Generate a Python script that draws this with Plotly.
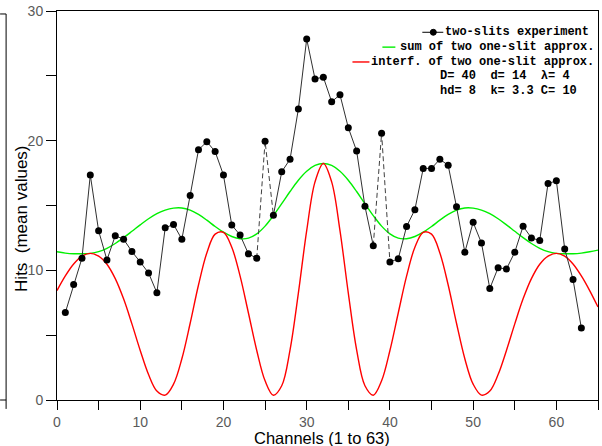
import plotly.graph_objects as go

# Measured two-slit counts per channel (mean values)
channels = list(range(1, 64))
hits = [6.74, 8.9, 10.94, 17.35, 13.05, 10.8, 12.67, 12.4, 11.45, 10.64,
        9.8, 8.27, 13.28, 13.54, 12.4, 15.78, 19.29, 19.92, 19.16, 17.35,
        13.49, 12.72, 11.27, 10.94, 19.95, 14.25, 17.6, 18.57, 22.44, 27.84,
        24.76, 24.9, 23.0, 23.54, 21.0, 19.2, 14.94, 11.9, 20.58, 10.64,
        10.89, 13.38, 14.68, 17.86, 17.86, 18.57, 18.1, 14.9, 11.4, 13.7,
        12.1, 8.6, 10.2, 10.1, 11.4, 13.4, 12.5, 12.3, 16.7, 16.9,
        11.65, 9.3, 5.55]
# channels shown joined by dashed segments
dashed_channels = [25, 39]

# Model curves sampled at every channel 0..65
curve_x = list(range(0, 66))
sum_one_slit = [11.43, 11.33, 11.28, 11.28, 11.31, 11.44, 11.70, 12.07, 12.52, 13.01,
                13.51, 13.98, 14.37, 14.65, 14.80, 14.81, 14.64, 14.31, 13.87, 13.38,
                12.94, 12.61, 12.44, 12.48, 12.81, 13.41, 14.22, 15.14, 16.08, 16.95,
                17.64, 18.09, 18.24, 18.09, 17.64, 16.95, 16.08, 15.14, 14.22, 13.41,
                12.81, 12.48, 12.44, 12.61, 12.94, 13.38, 13.87, 14.31, 14.64, 14.81,
                14.80, 14.65, 14.37, 13.98, 13.51, 13.01, 12.52, 12.07, 11.70, 11.44,
                11.31, 11.28, 11.28, 11.33, 11.43, 11.56]
interf_one_slit = [8.44, 9.57, 10.49, 11.10, 11.31, 11.10, 10.47, 9.36, 7.80, 5.87,
                   3.82, 1.96, 0.69, 0.38, 1.22, 3.18, 5.92, 8.87, 11.34, 12.79,
                   12.93, 11.78, 9.55, 6.71, 3.82, 1.48, 0.37, 1.10, 3.87, 8.24,
                   13.06, 16.82, 18.24, 16.82, 13.06, 8.24, 3.87, 1.10, 0.37, 1.48,
                   3.82, 6.71, 9.55, 11.78, 12.93, 12.79, 11.34, 8.87, 5.92, 3.18,
                   1.22, 0.38, 0.69, 1.96, 3.82, 5.87, 7.80, 9.36, 10.47, 11.10,
                   11.31, 11.10, 10.49, 9.57, 8.44, 7.17]

legend_lines = ["two-slits experiment",
                "sum of two one-slit approx.",
                "interf. of two one-slit approx."]
param_lines = ["D= 40  d= 14  \u03bb= 4",
               "hd= 8  k= 3.3 C= 10"]

x_range = [0, 65]
y_range = [0, 30]
x_ticks = list(range(0, 66, 5))
y_ticks = list(range(0, 31, 5))

W, H = 602, 446
ML, MR, MT, MB = 57, 3, 7, 46
PW, PH = W - ML - MR, H - MT - MB


def px(x):
    return (x - ML) / PW


def py(y):
    return (H - MB - y) / PH


fig = go.Figure()

fig.add_trace(go.Scatter(x=curve_x, y=sum_one_slit, mode="lines",
                         line=dict(color="#00f000", width=1.4, shape="spline"),
                         showlegend=False, hoverinfo="skip"))
fig.add_trace(go.Scatter(x=curve_x, y=interf_one_slit, mode="lines",
                         line=dict(color="#ff0000", width=1.4, shape="spline"),
                         showlegend=False, hoverinfo="skip"))

# solid polyline, broken around the dashed channels
solid_y = [None if c in dashed_channels else h for c, h in zip(channels, hits)]
fig.add_trace(go.Scatter(x=channels, y=solid_y, mode="lines",
                         line=dict(color="#303030", width=1),
                         connectgaps=False, showlegend=False))

dx, dy = [], []
for c in dashed_channels:
    i = channels.index(c)
    dx += [channels[i - 1], channels[i], channels[i + 1], None]
    dy += [hits[i - 1], hits[i], hits[i + 1], None]
fig.add_trace(go.Scatter(x=dx, y=dy, mode="lines",
                         line=dict(color="#404040", width=1, dash="5px,3px"),
                         showlegend=False))

fig.add_trace(go.Scatter(x=channels, y=hits, mode="markers",
                         marker=dict(color="black", size=7),
                         showlegend=False))

axis_font = dict(family="Liberation Sans, Arial", size=14, color="#5a5a5a")
fig.update_xaxes(range=x_range, tickmode="array", tickvals=x_ticks,
                 ticktext=[str(v) if v % 10 == 0 else "" for v in x_ticks],
                 ticks="outside", ticklen=9, tickcolor="black",
                 showline=True, linecolor="black", linewidth=1, mirror=True,
                 showgrid=False, zeroline=False, tickfont=axis_font,
                 ticklabeloverflow="allow")
fig.update_yaxes(range=y_range, tickmode="array", tickvals=y_ticks,
                 ticktext=[str(v) if v % 10 == 0 else "" for v in y_ticks],
                 ticks="outside", ticklen=10, tickcolor="black",
                 showline=True, linecolor="black", linewidth=1, mirror=True,
                 showgrid=False, zeroline=False, tickfont=axis_font,
                 ticklabeloverflow="allow")

mono = dict(family="Liberation Mono, DejaVu Sans Mono, monospace", size=12,
            color="black", weight="bold")
annotations = []
rights = [592, 597, 597]
ys = [28.5, 43.5, 58.5]
for txt, xr, yc in zip(legend_lines, rights, ys):
    annotations.append(dict(x=px(xr), y=py(yc), xref="paper", yref="paper",
                            text=txt, showarrow=False, xanchor="right",
                            yanchor="middle", font=mono))
for txt, yc in zip(param_lines, [73, 87.5]):
    annotations.append(dict(x=px(439), y=py(yc), xref="paper", yref="paper",
                            text=txt, showarrow=False, xanchor="left",
                            yanchor="middle", font=mono))

annotations.append(dict(x=px(322), y=py(438), xref="paper", yref="paper",
                        text="Channels (1 to 63)", showarrow=False,
                        xanchor="center", yanchor="middle",
                        font=dict(family="Liberation Sans, Arial", size=16.5, color="black")))
annotations.append(dict(x=px(22), y=py(217), xref="paper", yref="paper",
                        text="Hits  (mean values)", showarrow=False, textangle=-90,
                        xanchor="center", yanchor="middle",
                        font=dict(family="Liberation Sans, Arial", size=17, color="black")))

shapes = []
# legend keys
shapes.append(dict(type="line", xref="paper", yref="paper",
                   x0=px(423), x1=px(444), y0=py(28.5), y1=py(28.5),
                   line=dict(color="black", width=1)))
shapes.append(dict(type="circle", xref="paper", yref="paper",
                   x0=px(431), x1=px(437), y0=py(31.5), y1=py(25.5),
                   fillcolor="black", line=dict(color="black", width=1)))
shapes.append(dict(type="line", xref="paper", yref="paper",
                   x0=px(383), x1=px(396), y0=py(43.5), y1=py(43.5),
                   line=dict(color="#00f000", width=1.4)))
shapes.append(dict(type="line", xref="paper", yref="paper",
                   x0=px(353), x1=px(370), y0=py(58.5), y1=py(58.5),
                   line=dict(color="#ff0000", width=1.4)))
# edge of the neighbouring frame on the left
shapes.append(dict(type="line", xref="paper", yref="paper",
                   x0=px(6), x1=px(6), y0=py(10), y1=py(409),
                   line=dict(color="black", width=1)))
shapes.append(dict(type="line", xref="paper", yref="paper",
                   x0=px(0), x1=px(6), y0=py(10), y1=py(10),
                   line=dict(color="black", width=1)))
shapes.append(dict(type="line", xref="paper", yref="paper",
                   x0=px(0), x1=px(6), y0=py(400), y1=py(400),
                   line=dict(color="black", width=1)))

fig.update_layout(width=W, height=H,
                  margin=dict(l=ML, r=MR, t=MT, b=MB, pad=0),
                  paper_bgcolor="white", plot_bgcolor="white",
                  showlegend=False, annotations=annotations, shapes=shapes)

fig.write_html("out.html")
